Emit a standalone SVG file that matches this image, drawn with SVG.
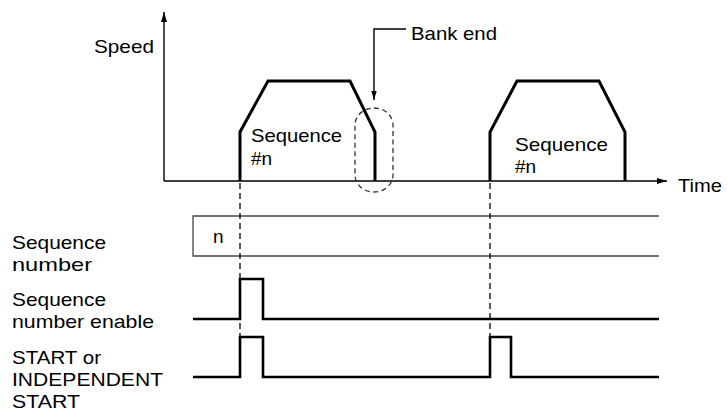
<svg xmlns="http://www.w3.org/2000/svg" width="727" height="414" viewBox="0 0 727 414">
<style>
text{font-family:"Liberation Sans",Arial,sans-serif;font-size:19px;fill:#000}
.axis{stroke:#000;stroke-width:1.4;fill:none}
.thin{stroke:#444;stroke-width:1.3;fill:none}
.wave{stroke:#000;stroke-width:3;fill:none;stroke-linejoin:miter}
.sig{stroke:#000;stroke-width:2.6;fill:none;stroke-linejoin:miter}
.dash{stroke:#000;stroke-width:1.3;fill:none;stroke-dasharray:6 4}
.dash2{stroke:#333;stroke-width:1.3;fill:none;stroke-dasharray:5 3.5}
</style>
<defs>
<marker id="ah" viewBox="0 0 10 6" refX="10" refY="3" markerWidth="10" markerHeight="6" markerUnits="userSpaceOnUse" orient="auto">
<path d="M0,0 L10,3 L0,6 Z" fill="#000"/>
</marker>
<marker id="ah2" viewBox="0 0 10 6" refX="10" refY="3" markerWidth="9" markerHeight="6" markerUnits="userSpaceOnUse" orient="auto">
<path d="M0,0 L10,3 L0,6 Z" fill="#000"/>
</marker>
</defs>

<g id="axes">
<line class="axis" x1="164" y1="181" x2="164" y2="12" marker-end="url(#ah)"/>
<line class="axis" x1="164" y1="181" x2="667" y2="181" marker-end="url(#ah)"/>
<text x="94" y="53" textLength="60" lengthAdjust="spacingAndGlyphs">Speed</text>
<text x="678" y="192" textLength="44" lengthAdjust="spacingAndGlyphs">Time</text>
</g>

<g id="profile1">
<path class="wave" d="M240,181 V132 L268,81 H350 L375,132 V181"/>
<text x="251" y="142" textLength="91" lengthAdjust="spacingAndGlyphs">Sequence</text>
<text x="251" y="165">#n</text>
</g>

<g id="profile2">
<path class="wave" d="M490,181 V132 L517,81 H599 L625,132 V181"/>
<text x="515" y="151" textLength="93" lengthAdjust="spacingAndGlyphs">Sequence</text>
<text x="515" y="173">#n</text>
</g>

<g id="bank-end">
<rect class="dash2" x="355" y="108" width="38" height="84" rx="19" ry="17"/>
<text x="411" y="40" textLength="86" lengthAdjust="spacingAndGlyphs">Bank end</text>
</g>

<g id="seq-number">
<path class="thin" d="M659,216 H193 V256 H659"/>
<text x="213" y="243">n</text>
<text x="12" y="249" textLength="94" lengthAdjust="spacingAndGlyphs">Sequence</text>
<text x="12" y="271" textLength="80" lengthAdjust="spacingAndGlyphs">number</text>
</g>

<g id="seq-enable">
<path class="sig" d="M193,319 H240 V279 H263 V319 H659"/>
<text x="12" y="306" textLength="94" lengthAdjust="spacingAndGlyphs">Sequence</text>
<text x="12" y="328" textLength="142" lengthAdjust="spacingAndGlyphs">number enable</text>
</g>

<g id="start">
<path class="sig" d="M193,377 H240 V337 H263 V377 H490 V337 H511 V377 H659"/>
<text x="12" y="364" textLength="89" lengthAdjust="spacingAndGlyphs">START or</text>
<text x="12" y="386" textLength="151" lengthAdjust="spacingAndGlyphs">INDEPENDENT</text>
<text x="12" y="408" textLength="68" lengthAdjust="spacingAndGlyphs">START</text>
</g>

<g id="connectors">
<path class="axis" d="M406,29 H374 V100" marker-end="url(#ah2)"/>
<line class="dash" x1="240" y1="183" x2="240" y2="337"/>
<line class="dash" x1="490" y1="183" x2="490" y2="337"/>
</g>
</svg>
